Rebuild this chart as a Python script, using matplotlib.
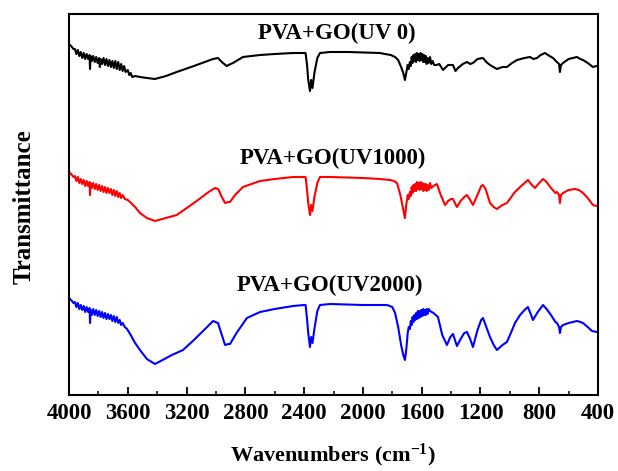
import matplotlib
matplotlib.use("Agg")
import matplotlib.pyplot as plt
from matplotlib.ticker import MultipleLocator

plt.rcParams['font.family'] = ['Liberation Serif', 'DejaVu Serif']
plt.rcParams['mathtext.fontset'] = 'custom'
plt.rcParams['mathtext.rm'] = 'Liberation Serif:bold'
plt.rcParams['mathtext.it'] = 'Liberation Serif:bold'
plt.rcParams['mathtext.bf'] = 'Liberation Serif:bold'

# ---- data (wavenumber in cm^-1, transmittance in arbitrary offset units) ----
wn_uv0 = [3993, 3980, 3970, 3960, 3950, 3940, 3930, 3920, 3910, 3900,
          3890, 3880, 3870, 3860, 3857, 3853, 3845, 3835, 3825, 3815,
          3805, 3795, 3790, 3785, 3775, 3765, 3755, 3745, 3735, 3725,
          3715, 3705, 3695, 3685, 3675, 3665, 3655, 3645, 3635, 3625,
          3615, 3600, 3590, 3580, 3570, 3550, 3517, 3470, 3415, 3340,
          3267, 3150, 3020, 2986, 2960, 2927, 2900, 2884, 2816, 2700,
          2600, 2475, 2400, 2390, 2380, 2372, 2360, 2352, 2343, 2330,
          2310, 2292, 2224, 2100, 1884, 1850, 1810, 1781, 1760, 1740,
          1725, 1714, 1705, 1695, 1688, 1680, 1674, 1668, 1662, 1656,
          1650, 1644, 1638, 1632, 1626, 1620, 1614, 1608, 1602, 1596,
          1590, 1584, 1578, 1572, 1566, 1560, 1552, 1543, 1535, 1525,
          1515, 1500, 1480, 1455, 1420, 1387, 1370, 1353, 1320, 1292,
          1270, 1251, 1220, 1183, 1160, 1135, 1088, 1050, 1020, 985,
          951, 900, 863, 840, 815, 790, 761, 730, 706, 680,
          665, 659, 652, 638, 600, 543, 520, 502, 470, 434,
          410, 400]
t_uv0 = [350, 348, 346, 346, 341, 345, 339, 343, 337, 342,
         336, 341, 336, 340, 326, 339, 334, 339, 333, 338,
         332, 337, 328, 336, 331, 337, 330, 336, 329, 335,
         328, 334, 327, 334, 326, 333, 325, 331, 324, 329,
         323, 325, 320, 322, 318, 319, 318, 317, 316, 319,
         323, 329, 336, 337, 333, 329, 331, 332, 338, 340,
         341, 342, 342, 342, 330, 315, 304, 315, 307, 322,
         337, 342, 343, 343, 342, 341, 340, 338, 335, 328,
         322, 315, 322, 330, 326, 333, 329, 338, 332, 340,
         334, 341, 333, 342, 335, 341, 334, 342, 335, 341,
         333, 340, 333, 339, 331, 337, 332, 338, 331, 334,
         330, 330, 331, 325, 330, 330, 324, 327, 331, 333,
         331, 332, 336, 337, 333, 330, 326, 328, 328, 332,
         335, 337, 338, 336, 337, 340, 342, 339, 337, 333,
         331, 323, 330, 332, 336, 338, 336, 335, 332, 328,
         329, 329]

wn_uv1000 = [3993, 3980, 3970, 3960, 3950, 3940, 3930, 3920, 3910, 3900,
             3890, 3880, 3870, 3860, 3857, 3853, 3845, 3835, 3825, 3815,
             3805, 3795, 3785, 3775, 3765, 3755, 3745, 3735, 3725, 3715,
             3705, 3695, 3685, 3675, 3665, 3655, 3645, 3635, 3620, 3600,
             3585, 3550, 3517, 3470, 3415, 3340, 3267, 3150, 3050, 3006,
             2985, 2960, 2938, 2915, 2904, 2870, 2816, 2700, 2600, 2475,
             2400, 2390, 2380, 2372, 2360, 2352, 2343, 2330, 2310, 2292,
             2224, 2000, 1884, 1816, 1790, 1768, 1745, 1725, 1714, 1705,
             1695, 1688, 1680, 1674, 1668, 1662, 1656, 1650, 1644, 1638,
             1632, 1626, 1620, 1614, 1608, 1602, 1596, 1590, 1584, 1578,
             1572, 1566, 1560, 1552, 1543, 1535, 1520, 1496, 1470, 1441,
             1420, 1400, 1387, 1360, 1335, 1310, 1292, 1270, 1251, 1220,
             1195, 1183, 1165, 1135, 1110, 1088, 1050, 1020, 990, 965,
             930, 900, 877, 850, 829, 800, 774, 750, 720, 690,
             679, 665, 659, 652, 638, 600, 557, 530, 502, 470,
             434, 410, 400]
t_uv1000 = [222, 220, 218, 219, 214, 218, 212, 216, 211, 215,
            209, 214, 209, 213, 200, 212, 207, 212, 206, 211,
            205, 210, 204, 209, 203, 208, 202, 207, 202, 206,
            200, 205, 199, 204, 198, 202, 197, 200, 196, 195,
            193, 188, 182, 177, 174, 177, 180, 192, 203, 207,
            206, 198, 192, 193, 193, 200, 208, 214, 216, 218,
            218, 218, 205, 192, 180, 190, 184, 198, 212, 218,
            218, 217, 216, 215, 214, 212, 200, 185, 177, 190,
            200, 196, 203, 199, 208, 202, 210, 204, 211, 204,
            213, 206, 212, 205, 213, 206, 212, 204, 211, 205,
            211, 204, 210, 205, 212, 207, 209, 211, 200, 190,
            194, 196, 196, 188, 194, 198, 200, 195, 190, 200,
            209, 210, 206, 192, 188, 186, 190, 192, 198, 203,
            208, 212, 215, 210, 207, 212, 216, 213, 207, 202,
            203, 200, 192, 200, 202, 205, 206, 205, 202, 197,
            190, 189, 189]

wn_uv2000 = [3993, 3980, 3970, 3960, 3950, 3940, 3930, 3920, 3910, 3900,
             3890, 3880, 3870, 3860, 3857, 3853, 3845, 3835, 3825, 3815,
             3805, 3795, 3785, 3775, 3765, 3755, 3745, 3735, 3725, 3715,
             3705, 3695, 3685, 3675, 3665, 3655, 3645, 3635, 3620, 3605,
             3580, 3550, 3517, 3470, 3415, 3350, 3300, 3224, 3150, 3060,
             3020, 2986, 2960, 2938, 2915, 2904, 2860, 2789, 2700, 2600,
             2475, 2400, 2390, 2380, 2372, 2360, 2352, 2343, 2330, 2310,
             2292, 2224, 2000, 1836, 1800, 1781, 1760, 1740, 1725, 1714,
             1705, 1695, 1688, 1680, 1674, 1668, 1662, 1656, 1650, 1644,
             1638, 1632, 1626, 1620, 1614, 1608, 1602, 1596, 1590, 1584,
             1578, 1572, 1566, 1560, 1552, 1543, 1520, 1489, 1460, 1428,
             1405, 1387, 1360, 1335, 1310, 1292, 1270, 1251, 1220, 1195,
             1183, 1165, 1135, 1110, 1088, 1050, 1020, 990, 965, 930,
             900, 877, 855, 843, 810, 774, 750, 720, 690, 679,
             665, 659, 652, 638, 600, 543, 520, 502, 470, 441,
             410, 400]
t_uv2000 = [96, 94, 92, 93, 88, 92, 86, 90, 85, 89,
            83, 88, 83, 87, 72, 85, 80, 86, 80, 85,
            79, 84, 78, 83, 77, 82, 76, 81, 76, 80,
            74, 79, 73, 78, 72, 75, 70, 72, 68, 66,
            60, 52, 45, 36, 31, 36, 40, 45, 55, 68,
            74, 72, 60, 50, 51, 51, 62, 77, 83, 86,
            89, 90, 90, 76, 62, 48, 58, 52, 66, 84,
            90, 91, 90, 90, 88, 82, 68, 50, 40, 35,
            45, 62, 68, 66, 74, 70, 78, 73, 80, 75,
            82, 76, 84, 77, 84, 78, 85, 79, 86, 80,
            85, 80, 86, 81, 86, 84, 82, 78, 60, 50,
            58, 61, 49, 56, 62, 63, 56, 48, 65, 75,
            77, 70, 58, 50, 45, 50, 53, 63, 72, 80,
            85, 88, 80, 75, 83, 90, 86, 80, 73, 72,
            68, 62, 68, 70, 72, 74, 73, 72, 68, 64,
            63, 63]

labels = ['PVA+GO(UV 0)', 'PVA+GO(UV1000)', 'PVA+GO(UV2000)']
label_wn = [2176, 2203, 2224]
label_t = [362, 237, 110]
colors = ['black', 'red', 'blue']

fig = plt.figure(figsize=(6.18, 4.71), dpi=100)
ax = fig.add_axes([69/618, (471-395)/471, (598-69)/618, (395-14)/471])

series = [(wn_uv0, t_uv0), (wn_uv1000, t_uv1000), (wn_uv2000, t_uv2000)]
for (w, t), c in zip(series, colors):
    n = min(len(w), len(t))
    ax.plot(w[:n], t[:n], color=c, lw=1.5)

for lab, x, y in zip(labels, label_wn, label_t):
    ax.text(x, y, lab, ha='center', va='center', fontsize=16.5, fontweight='bold')

ax.set_xlim(4000, 400)
ax.set_ylim(0, 381)
ax.xaxis.set_major_locator(MultipleLocator(400))
ax.xaxis.set_minor_locator(MultipleLocator(200))
ax.set_yticks([])
ax.tick_params(axis='x', which='major', direction='in', length=6, width=1.3,
               labelsize=16.5, pad=6)
ax.tick_params(axis='x', which='minor', direction='in', length=3, width=1.1)
for lbl in ax.get_xticklabels():
    lbl.set_fontweight('bold')
for sp in ax.spines.values():
    sp.set_linewidth(1.5)

fig.text(333/618, (471-455)/471, 'Wavenumbers (cm$^{-1}$)', ha='center', va='center',
         fontsize=16, fontweight='bold')
fig.text(24/618, (471-207)/471, 'Transmittance', ha='center', va='center',
         rotation=90, fontsize=18, fontweight='bold')

fig.savefig('out.png', dpi=100)
